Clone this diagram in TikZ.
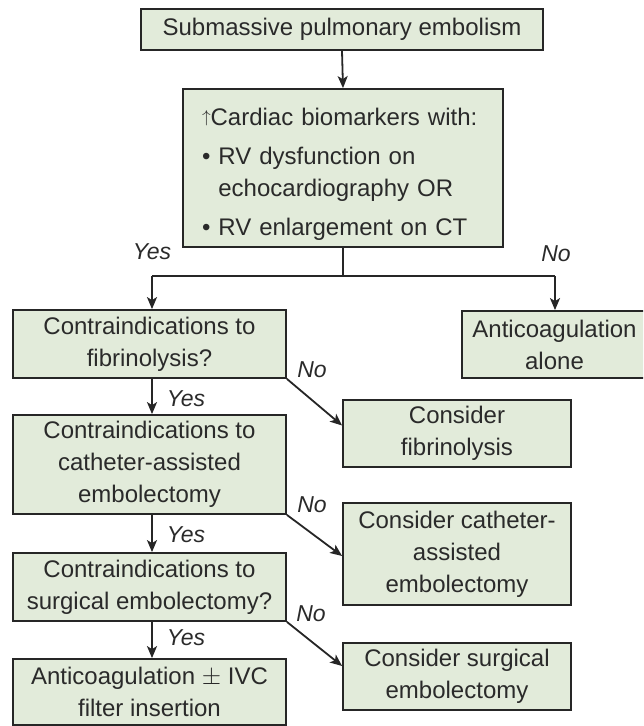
\documentclass[tikz,border=0pt]{standalone}
\usepackage{fontspec}
\setmainfont{Liberation Sans}
\usetikzlibrary{arrows.meta}
\definecolor{boxfill}{HTML}{E2EBDA}
\definecolor{ink}{HTML}{262626}
\definecolor{txt}{HTML}{2A2A2A}
\begin{document}
\begin{tikzpicture}[x=1pt,y=-1pt,
  box/.style={draw=ink, line width=1.8pt, fill=boxfill, align=center, text=txt,
              font=\fontsize{24}{32}\selectfont, inner sep=0pt},
  arr/.style={draw=ink, line width=1.8pt, -{Stealth[length=12pt,width=10pt,inset=3pt]}},
  ln/.style={draw=ink, line width=1.8pt},
  lab/.style={font=\fontsize{23}{23}\selectfont\itshape, text=txt, inner sep=0pt}]
\useasboundingbox (0,0) rectangle (643,726);
\clip (0,0) rectangle (643,726);

\node[box, minimum width=402pt, minimum height=41pt] (b1) at (342,29.5) {Submassive pulmonary embolism};

\node[box, align=left, text width=282pt, inner xsep=19pt, minimum height=158pt] (b2) at (343,168)
  {\rule{0pt}{29pt}\raisebox{3pt}{\fontsize{17}{17}\selectfont$\uparrow$}Cardiac biomarkers with:\\[7pt]
   \textbullet\ RV dysfunction on\\
   \hphantom{\textbullet\ }echocardiography OR\\[7pt]
   \textbullet\ RV enlargement on CT};

\node[box, minimum width=273pt, minimum height=68pt] (b3) at (149.5,344) {Contraindications to\\fibrinolysis?};
\node[box, minimum width=185pt, minimum height=67pt] (alone) at (554.5,344.5) {Anticoagulation\\alone};
\node[box, minimum width=273pt, minimum height=99pt] (b4) at (149.5,464.5) {Contraindications to\\catheter-assisted\\embolectomy};
\node[box, minimum width=228pt, minimum height=67pt] (fib) at (457,433.5) {Consider\\fibrinolysis};
\node[box, minimum width=228pt, minimum height=102pt] (cath) at (457,554) {Consider catheter-\\assisted\\embolectomy};
\node[box, minimum width=273pt, minimum height=68pt] (b5) at (149.5,587) {Contraindications to\\surgical embolectomy?};
\node[box, minimum width=228pt, minimum height=67pt] (surg) at (457,676.5) {Consider surgical\\embolectomy};
\node[box, minimum width=273pt, minimum height=66pt] (b6) at (149.5,692) {Anticoagulation $\pm$ IVC\\filter insertion};

\coordinate (j) at (343,276);
\coordinate (jl) at (152,276);
\coordinate (jr) at (555,276);

\draw[arr] (b1.south) -- (b2.north);
\draw[ln] (b2.south) -- (j);
\draw[ln] (jl) -- (jr);
\draw[arr] (jl) -- (jl |- b3.north);
\draw[arr] (jr) -- (jr |- alone.north);

\draw[arr] (jl |- b3.south) -- (jl |- b4.north);
\draw[arr] (jl |- b4.south) -- (jl |- b5.north);
\draw[arr] (jl |- b5.south) -- (jl |- b6.north);

\draw[arr] (b3.south east) -- ([yshift=8pt]fib.west);
\draw[arr] (b4.south east) -- ([yshift=-2pt]cath.west);
\draw[arr] (b5.south east) -- ([yshift=10.5pt]surg.west);

\node[lab] (yesmain) at (152,252) {Yes};
\node[lab] (nomain) at (556,254) {No};
\node[lab] (y1) at (186,399) {Yes};
\node[lab] (y2) at (186,535) {Yes};
\node[lab] (y3) at (186,638) {Yes};
\node[lab] (n1) at (312,370) {No};
\node[lab] (n2) at (312,505) {No};
\node[lab] (n3) at (311,614) {No};
\end{tikzpicture}
\end{document}
